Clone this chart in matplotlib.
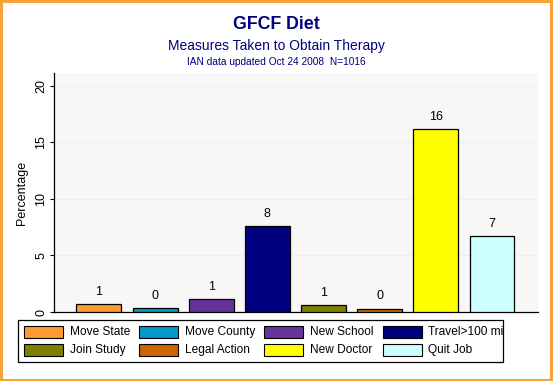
import matplotlib
matplotlib.use("Agg")
import matplotlib.pyplot as plt
from matplotlib.patches import Rectangle

plt.rcParams['font.family'] = ['Liberation Sans', 'DejaVu Sans']

categories = ["Move State", "Move County", "New School", "Travel>100 mi",
              "Join Study", "Legal Action", "New Doctor", "Quit Job"]
values = [0.7, 0.33, 1.12, 7.6, 0.6, 0.3, 16.17, 6.7]
labels = ["1", "0", "1", "8", "1", "0", "16", "7"]
colors = ["#FF9933", "#0099CC", "#663399", "#000080",
          "#808000", "#CC6600", "#FFFF00", "#CCFFFF"]
yticks = [0, 5, 10, 15, 20]

navy = "#000080"

fig = plt.figure(figsize=(5.53, 3.81), dpi=100)
fig.patch.set_facecolor("white")
fig.patches.append(Rectangle((0.002, 0.003), 0.995, 0.994, transform=fig.transFigure,
                             fill=False, edgecolor="#F7A23B", linewidth=2.2))

ax = fig.add_axes([0.0976, 0.181, 0.8754, 0.627])
ax.set_facecolor("#F7F7F7")
x = list(range(len(values)))
bars = ax.bar(x, values, width=0.8, color=colors, edgecolor="black", linewidth=0.9, zorder=3)
for xi, v, lab in zip(x, values, labels):
    ax.text(xi, v + 0.55, lab, ha="center", va="bottom", fontsize=9, zorder=4)

ax.set_xlim(-0.8, 7.82)
ax.set_ylim(0, 21.1)
ax.set_yticks(yticks)
ax.set_yticklabels([str(t) for t in yticks], rotation=90, va="center", fontsize=9)
ax.set_xticks([])
ax.grid(axis="y", color="#EDEDED", linewidth=0.8, zorder=0)
for s in ["top", "right"]:
    ax.spines[s].set_visible(False)
ax.spines["left"].set_linewidth(0.9)
ax.spines["bottom"].set_linewidth(0.9)
ax.tick_params(axis="y", length=3, width=0.8, pad=2)
ax.set_ylabel("Percentage", fontsize=9, labelpad=5)

fig.text(0.5, 0.937, "GFCF Diet", ha="center", va="center", fontsize=12.8,
         fontweight="bold", color=navy)
fig.text(0.5, 0.879, "Measures Taken to Obtain Therapy", ha="center", va="center",
         fontsize=10, color=navy)
fig.text(0.5, 0.837, "IAN data updated Oct 24 2008  N=1016", ha="center", va="center",
         fontsize=7.3, color=navy)

# manual legend box
W, H = 553.0, 381.0
fig.patches.append(Rectangle((18 / W, 1 - 362 / H), 485 / W, 42 / H, transform=fig.transFigure,
                             fill=False, edgecolor="black", linewidth=0.9))
sw_x = [24, 139, 264, 383]
tx_x = [70, 185, 310, 428]
rows = [(326, 338), (344, 356)]
for i, (cat, col) in enumerate(zip(categories, colors)):
    r, c = divmod(i, 4)
    y0, y1 = rows[r]
    fig.patches.append(Rectangle((sw_x[c] / W, 1 - y1 / H), 39 / W, (y1 - y0) / H,
                                 transform=fig.transFigure, facecolor=col,
                                 edgecolor="black", linewidth=0.8))
    t = fig.text(tx_x[c] / W, 1 - (y0 + y1) / 2 / H, cat, ha="left", va="center", fontsize=8.6)
    t.set_clip_box(matplotlib.transforms.Bbox([[0, 0], [503, H]]))
    t.set_clip_on(True)

fig.savefig("out.png", dpi=100)
